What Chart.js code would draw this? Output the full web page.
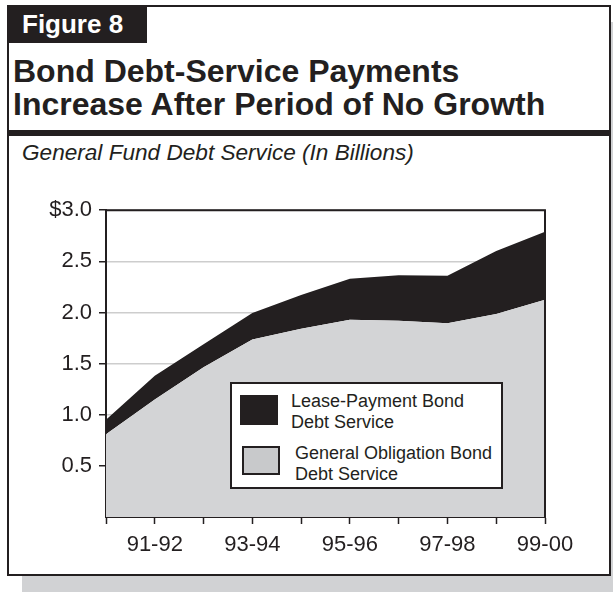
<!DOCTYPE html>
<html>
<head>
<meta charset="utf-8">
<script src="https://cdn.jsdelivr.net/npm/chart.js@4/dist/chart.umd.min.js"></script>
<style>
  html, body { margin: 0; padding: 0; background: #fff; }
  body { width: 613px; height: 592px; position: relative; overflow: hidden;
         font-family: "Liberation Sans", Arial, Helvetica, sans-serif; color: #231f20; }
  .shadow { position: absolute; left: 22px; top: 22px; width: 591px; height: 570px; background: #d1d2d4; }
  .frame { position: absolute; left: 7px; top: 5px; width: 604px; height: 571px; box-sizing: border-box;
           border: 2px solid #231f20; background: #fff; }
  .tag { position: absolute; left: 7px; top: 5px; width: 140px; height: 38px; background: #231f20; color: #fff;
         font-weight: bold; font-size: 26px; line-height: 38px; box-sizing: border-box; padding-left: 15px; }
  .title { position: absolute; left: 13px; top: 55px; font-weight: bold; font-size: 32px; line-height: 33px; white-space: nowrap; }
  .rule { position: absolute; left: 7px; top: 130px; width: 604px; height: 6px; background: #231f20; }
  .subtitle { position: absolute; left: 22px; top: 140px; font-style: italic; font-size: 22.6px; line-height: 26px; white-space: nowrap; }
  #wrap { position: absolute; left: 0; top: 190px; width: 613px; height: 380px; }
  .legend { position: absolute; left: 230px; top: 382px; width: 273px; height: 107px; box-sizing: border-box;
            border: 2px solid #231f20; background: #fff; }
  .sw { position: absolute; box-sizing: border-box; }
  .lt { position: absolute; font-size: 18px; line-height: 21px; white-space: nowrap; }
</style>
</head>
<body>
<div class="shadow"></div>
<div class="frame"></div>
<div class="tag">Figure 8</div>
<div class="title">Bond Debt-Service Payments<br>Increase After Period of No Growth</div>
<div class="rule"></div>
<div class="subtitle">General Fund Debt Service (In Billions)</div>
<div id="wrap"><canvas id="c" width="613" height="380"></canvas></div>
<div class="legend" id="legend"></div>
<script>
// Fiscal years on the horizontal axis
const years = ["90-91", "91-92", "92-93", "93-94", "94-95", "95-96", "96-97", "97-98", "98-99", "99-00"];
// General obligation bond debt service, billions of dollars
const goDebt = [0.81, 1.15, 1.465, 1.735, 1.84, 1.93, 1.92, 1.895, 1.985, 2.125];
// Lease-payment bond debt service, billions of dollars (stacked on top)
const leaseDebt = [0.14, 0.23, 0.225, 0.26, 0.33, 0.40, 0.445, 0.465, 0.615, 0.665];
// Value-axis tick labels
const yTickLabels = { 0.5: "0.5", 1: "1.0", 1.5: "1.5", 2: "2.0", 2.5: "2.5", 3: "$3.0" };
const seriesNames = ["General Obligation Bond\nDebt Service", "Lease-Payment Bond\nDebt Service"];

const ink = "#231f20";
const goFill = "#d3d4d6";
const tickFont = { family: "'Liberation Sans', Arial, sans-serif", size: 22 };

// Top and right edges of the plot frame
const frameEdges = {
  id: "frameEdges",
  afterDatasetsDraw(chart) {
    const a = chart.chartArea, ctx = chart.ctx;
    ctx.save();
    ctx.strokeStyle = ink;
    ctx.lineWidth = 2;
    ctx.beginPath();
    ctx.moveTo(a.left - 1, a.top);
    ctx.lineTo(a.right, a.top);
    ctx.lineTo(a.right, a.bottom);
    ctx.stroke();
    ctx.restore();
  }
};

const chart = new Chart(document.getElementById("c"), {
  type: "line",
  data: {
    labels: years,
    datasets: [
      { label: seriesNames[0], data: goDebt, fill: "origin", backgroundColor: goFill,
        borderWidth: 0, pointRadius: 0, tension: 0 },
      { label: seriesNames[1], data: leaseDebt, fill: "-1", backgroundColor: ink,
        borderWidth: 0, pointRadius: 0, tension: 0 }
    ]
  },
  options: {
    responsive: false,
    animation: false,
    layout: { padding: { left: 0, right: 68, top: 20, bottom: 0 } },
    plugins: { legend: { display: false }, tooltip: { enabled: false } },
    scales: {
      x: {
        offset: false,
        grid: { drawOnChartArea: false, tickLength: 7, tickColor: ink, tickWidth: 1.5 },
        border: { color: ink, width: 2 },
        ticks: {
          autoSkip: false, maxRotation: 0, padding: 8, color: ink, font: tickFont,
          callback: (v, i) => (i % 2 === 1 ? years[i] : "")
        },
        afterFit: s => { s.height = 53; }
      },
      y: {
        stacked: true, min: 0, max: 3,
        grid: {
          color: "#cdcdcd", lineWidth: 1.5, tickLength: 7, tickWidth: 1.5,
          tickColor: c => (c.tick && c.tick.value === 0 ? "rgba(0,0,0,0)" : ink)
        },
        border: { color: ink, width: 2 },
        ticks: {
          stepSize: 0.5, padding: 7, color: ink, font: tickFont,
          callback: v => yTickLabels[v] || ""
        },
        afterFit: s => { s.width = 106; }
      }
    }
  },
  plugins: [frameEdges]
});

// Legend drawn from the dataset entries
(function buildLegend() {
  const box = document.getElementById("legend");
  const order = [1, 0];
  const rows = [
    { sw: { l: 8, t: 11, w: 38, h: 30, border: 0 }, text: { l: 59, t: 7 } },
    { sw: { l: 10, t: 62, w: 38, h: 29, border: 2 }, text: { l: 63, t: 59 } }
  ];
  order.forEach((di, r) => {
    const ds = chart.data.datasets[di];
    const p = rows[r];
    const sw = document.createElement("div");
    sw.className = "sw";
    Object.assign(sw.style, { left: p.sw.l + "px", top: p.sw.t + "px", width: p.sw.w + "px", height: p.sw.h + "px",
      background: ds.backgroundColor, border: p.sw.border ? p.sw.border + "px solid " + ink : "none" });
    if (ds.backgroundColor === goFill) sw.style.background = "#c8c9cb";
    box.appendChild(sw);
    const t = document.createElement("div");
    t.className = "lt";
    t.style.left = p.text.l + "px";
    t.style.top = p.text.t + "px";
    t.innerHTML = ds.label.split("\n").join("<br>");
    box.appendChild(t);
  });
})();
</script>
</body>
</html>
